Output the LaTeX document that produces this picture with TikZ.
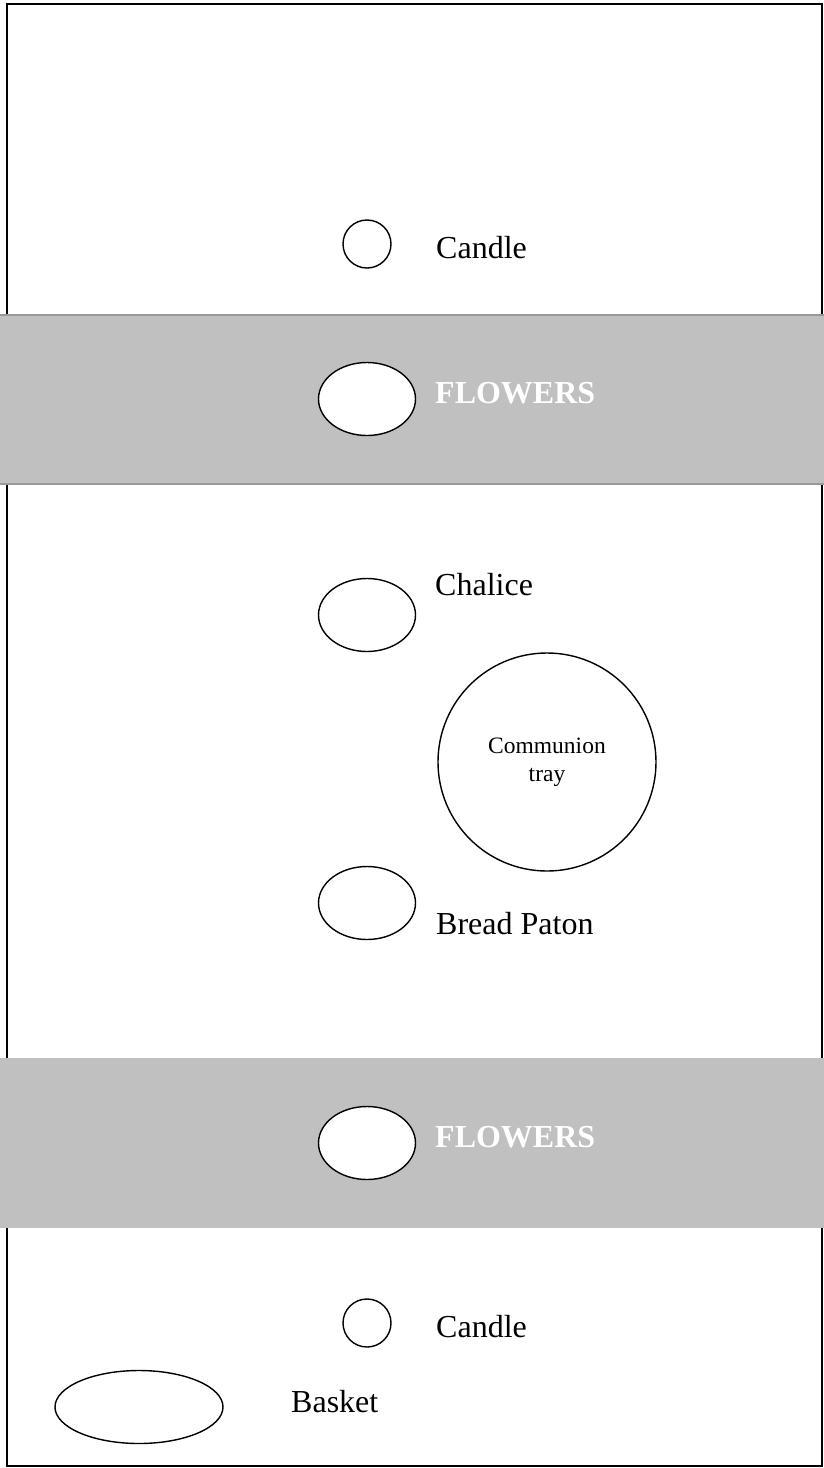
\documentclass[tikz,border=0pt]{standalone}
\usepackage{fontspec}
\setmainfont{Liberation Serif}
\usepackage{xcolor}
\usepackage{tikz}
\usetikzlibrary{shapes.geometric}
\definecolor{bandgray}{RGB}{192,192,192}
\definecolor{bandedge}{RGB}{153,153,153}

\begin{document}
\begin{tikzpicture}[x=1pt,y=-1pt,
    dish/.style={ellipse,draw=black,line width=1.4pt,fill=white,
      minimum width=#1,minimum height=73pt,inner sep=0pt},
    dish/.default=97pt,
    candle/.style={circle,draw=black,line width=1.4pt,fill=white,
      minimum size=48pt,inner sep=0pt},
    tray/.style={circle,draw=black,line width=1.4pt,fill=white,
      minimum size=218pt,inner sep=0pt,align=center,
      font=\fontsize{23.5}{28}\selectfont},
    lbl/.style={anchor=base west,inner sep=0pt,
      font=\fontsize{32}{38}\selectfont},
    flw/.style={anchor=base west,inner sep=0pt,text=white,
      font=\fontsize{32}{38}\selectfont\bfseries},
  ]

  \def\midx{367}

  \useasboundingbox (0,0) rectangle (824,1468);
  \draw[line width=2pt] (7,4) rectangle (822,1466);

  \fill[bandgray] (0,315) rectangle (824,484);
  \draw[bandedge,line width=2pt] (0,315) -- (824,315) (0,484) -- (824,484);
  \fill[bandgray] (0,1058) rectangle (824,1228);

  \foreach \i/\y/\by in {1/244/258, 2/1323/1337} {
    \node[candle] (candle\i) at (\midx,\y) {};
    \node[lbl] (candlelbl\i) at (436,\by) {Candle};
  }

  \foreach \i/\y/\by in {1/399/403, 2/1143/1147} {
    \node[dish] (flowers\i) at (\midx,\y) {};
    \node[flw] (flowerslbl\i) at (435,\by) {FLOWERS};
  }

  \node[dish] (chalice) at (\midx,615) {};
  \node[lbl] (chalicelbl) at (435,595) {Chalice};

  \node[tray] (tray) at (547,762) {Communion\\tray};

  \node[dish] (paton) at (\midx,903) {};
  \node[lbl] (patonlbl) at (436,934) {Bread Paton};

  \node[dish=168pt] (basket) at (139,1407) {};
  \node[lbl] (basketlbl) at (291,1412) {Basket};

\end{tikzpicture}
\end{document}
